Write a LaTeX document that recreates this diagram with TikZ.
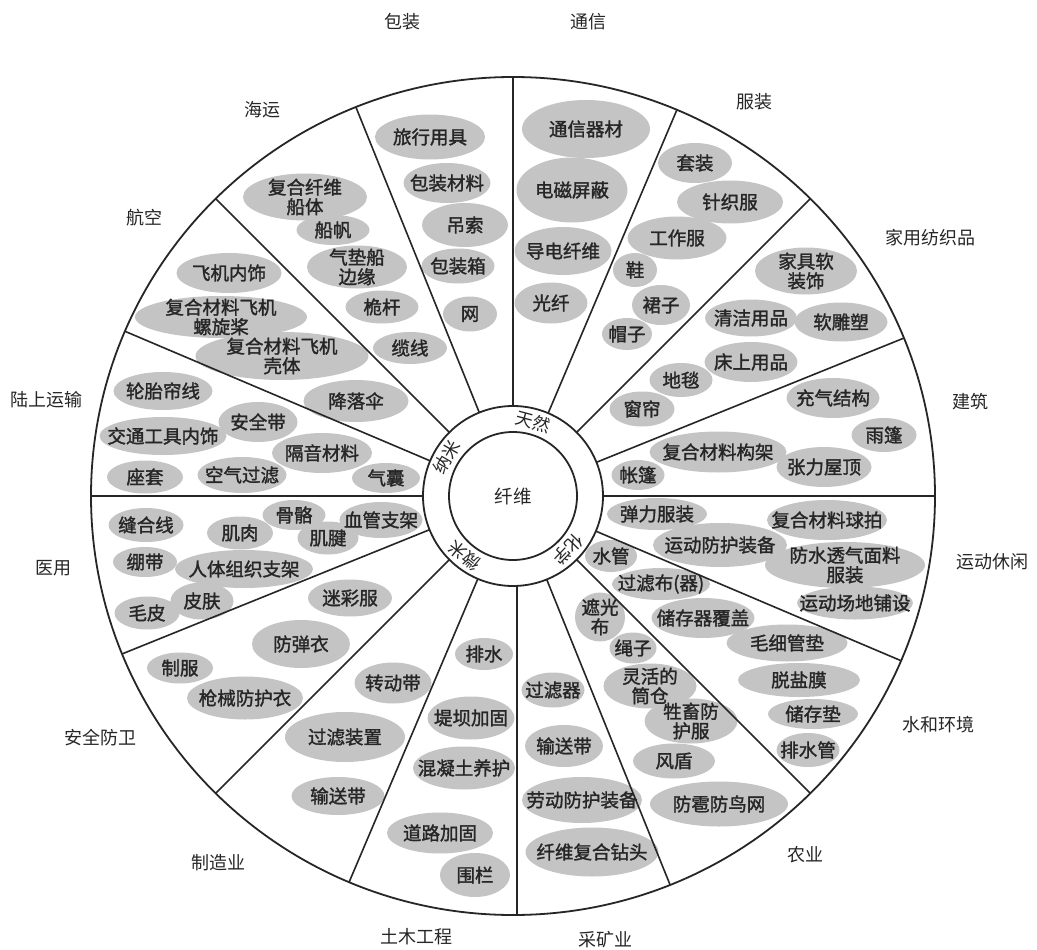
\documentclass[tikz,border=0pt]{standalone}
\usepackage{fontspec}
\newfontfamily\cjk{Noto Sans CJK SC}
\newfontfamily\cjkb[FakeBold=1.6]{Noto Sans CJK SC}
\usetikzlibrary{shapes.geometric,calc}
\pgfdeclarelayer{back}
\pgfdeclarelayer{bg}
\pgfsetlayers{back,bg,main}
\definecolor{blobgray}{gray}{0.77}
\definecolor{ink}{gray}{0.15}
\newcommand\myblob[6]{%
  \begin{pgfonlayer}{bg}
    \node[blobshape, minimum width=#4pt, minimum height=#5pt] (#1) at (#2,#3) {};
  \end{pgfonlayer}
  \node[blobtext] (#1-t) at (#1) {#6};%
}
\begin{document}
\begin{tikzpicture}[x=1pt,y=-1pt,
  rim/.style={draw=ink, line width=1.8pt, inner sep=0pt, outer sep=0pt},
  spoke/.style={draw=ink, line width=1.6pt},
  blobshape/.style={ellipse, fill=blobgray, inner sep=0pt, outer sep=0pt},
  blobtext/.style={font=\cjkb\fontsize{18.5}{19.5}\selectfont, text=ink, align=center, inner sep=0pt},
  sector/.style={font=\cjk\fontsize{18}{20}\selectfont, text=ink, inner sep=0pt},
  ringtext/.style={font=\cjk\fontsize{17.5}{18}\selectfont, text=ink, inner sep=0pt}
]
\useasboundingbox (0,0) rectangle (1037,950);
\begin{pgfonlayer}{back}
\fill[white] (0,0) rectangle (1037,950);
\end{pgfonlayer}

\coordinate (C) at (513,496);
\node[rim, ellipse, draw, minimum width=844pt, minimum height=838pt] (outer) at (C) {};
\node[rim, circle, draw, minimum size=180pt] (ring) at (C) {};
\node[rim, circle, draw, minimum size=128pt] (core) at (C) {};
\node[font=\cjk\fontsize{18.5}{20}\selectfont, text=ink, inner sep=0pt] (core-t) at (core) {纤维};

% spokes
\foreach \a in {0,22.5,45,67.5,90,112.5,135,157.5,180,202.5,225,247.5,292.5,315,337.5}
  \draw[spoke] (ring.\a) -- (outer.\a);
\draw[spoke] ([xshift=4pt]ring.270) -- ([xshift=4pt]outer.270);

% ring labels
\node[ringtext, rotate=-15] (r-tr) at ($(C)+(75:77pt)$) {天然};
\node[ringtext, rotate=60]  (r-nm) at ($(C)+(150:77pt)$) {纳米};
\node[ringtext, rotate=141] (r-wm) at ($(C)+(231:77pt)$) {微米};
\node[ringtext, rotate=226] (r-hx) at ($(C)+(316:77pt)$) {化学};

% sector labels
\node[sector] (l-bz) at (402,22) {包装};
\node[sector] (l-tx) at (588,22) {通信};
\node[sector] (l-fz) at (754,102) {服装};
\node[sector] (l-hy) at (262,110) {海运};
\node[sector] (l-hk) at (144,218) {航空};
\node[sector] (l-jf) at (930,238) {家用纺织品};
\node[sector] (l-ls) at (46,400) {陆上运输};
\node[sector] (l-jz) at (970,402) {建筑};
\node[sector] (l-yy) at (53,568) {医用};
\node[sector] (l-yd) at (992,562) {运动休闲};
\node[sector] (l-aq) at (100,738) {安全防卫};
\node[sector] (l-sh) at (938,725) {水和环境};
\node[sector] (l-zz) at (218,863) {制造业};
\node[sector] (l-ny) at (805,855) {农业};
\node[sector] (l-tm) at (416,937) {土木工程};
\node[sector] (l-ck) at (605,940) {采矿业};

% 通信
\myblob{tx1}{586}{129}{128}{58}{通信器材}
\myblob{tx2}{572}{190}{111}{65}{电磁屏蔽}
\myblob{tx3}{563}{251}{97}{48}{导电纤维}
\myblob{tx4}{551}{303}{73}{41}{光纤}
% 包装
\myblob{bz1}{430}{137}{110}{45}{旅行用具}
\myblob{bz2}{447}{183}{87}{40}{包装材料}
\myblob{bz3}{465}{225}{86}{44}{吊索}
\myblob{bz4}{458}{266}{73}{35}{包装箱}
\myblob{bz5}{470}{314}{54}{35}{网}
% 海运
\myblob{hy1}{305}{197}{124}{47}{复合纤维\\船体}
\myblob{hy2}{333}{230}{73}{30}{船帆}
\myblob{hy3}{357}{267}{100}{43}{气垫船\\边缘}
\myblob{hy4}{382}{307}{73}{33}{桅杆}
\myblob{hy5}{410}{348}{74}{32}{缆线}
% 航空
\myblob{hk1}{229}{273}{105}{40}{飞机内饰}
\myblob{hk2}{221}{317}{172}{42}{复合材料飞机\\螺旋桨}
\myblob{hk3}{282}{356}{173}{48}{复合材料飞机\\壳体}
\myblob{hk4}{356}{401}{105}{42}{降落伞}
% 陆上运输
\myblob{ls1}{163}{391}{99}{38}{轮胎帘线}
\myblob{ls2}{258}{422}{79}{40}{安全带}
\myblob{ls3}{163}{436}{127}{38}{交通工具内饰}
\myblob{ls4}{322}{453}{100}{40}{隔音材料}
\myblob{ls5}{145}{477}{76}{33}{座套}
\myblob{ls6}{242}{475}{89}{36}{空气过滤}
\myblob{ls7}{386}{478}{68}{30}{气囊}
% 医用
\myblob{yy1}{146}{525}{75}{34}{缝合线}
\myblob{yy2}{240}{533}{66}{33}{肌肉}
\myblob{yy3}{294}{515}{63}{30}{骨骼}
\myblob{yy4}{328}{538}{61}{33}{肌腱}
\myblob{yy5}{381}{520}{83}{36}{血管支架}
\myblob{yy6}{145}{562}{64}{30}{绷带}
\myblob{yy7}{244}{569}{138}{38}{人体组织支架}
\myblob{yy8}{202}{601}{63}{37}{皮肤}
\myblob{yy9}{147}{613}{65}{33}{毛皮}
% 安全防卫
\myblob{aq1}{350}{598}{84}{37}{迷彩服}
\myblob{aq2}{301}{644}{98}{48}{防弹衣}
\myblob{aq3}{180}{668}{66}{31}{制服}
\myblob{aq4}{245}{698}{116}{43}{枪械防护衣}
% 制造业
\myblob{zz1}{393}{683}{77}{41}{转动带}
\myblob{zz2}{345}{737}{120}{50}{过滤装置}
\myblob{zz3}{338}{796}{93}{38}{输送带}
% 土木工程
\myblob{tm1}{484}{654}{58}{32}{排水}
\myblob{tm2}{471}{718}{87}{43}{堤坝加固}
\myblob{tm3}{464}{768}{102}{43}{混凝土养护}
\myblob{tm4}{440}{833}{106}{41}{道路加固}
\myblob{tm5}{475}{875}{70}{44}{围栏}
% 采矿业
\myblob{ck1}{553}{690}{63}{35}{过滤器}
\myblob{ck2}{564}{746}{78}{42}{输送带}
\myblob{ck3}{582}{800}{120}{46}{劳动防护装备}
\myblob{ck4}{592}{852}{133}{49}{纤维复合钻头}
% 农业
\myblob{ny1}{600}{617}{50}{49}{遮光\\布}
\myblob{ny2}{633}{648}{47}{31}{绳子}
\myblob{ny3}{650}{686}{93}{45}{灵活的\\筒仓}
\myblob{ny4}{691}{721}{93}{45}{牲畜防\\护服}
\myblob{ny5}{674}{761}{82}{35}{风盾}
\myblob{ny6}{719}{804}{138}{45}{防雹防鸟网}
% 水和环境
\myblob{sh1}{611}{556}{52}{32}{水管}
\myblob{sh2}{661}{584}{98}{32}{过滤布(器)}
\myblob{sh3}{703}{618}{103}{40}{储存器覆盖}
\myblob{sh4}{787}{643}{121}{37}{毛细管垫}
\myblob{sh5}{799}{680}{122}{34}{脱盐膜}
\myblob{sh6}{813}{714}{90}{30}{储存垫}
\myblob{sh7}{808}{750}{63}{34}{排水管}
% 运动休闲
\myblob{yd1}{657}{514}{100}{32}{弹力服装}
\myblob{yd2}{827}{520}{120}{40}{复合材料球拍}
\myblob{yd3}{720}{545}{134}{44}{运动防护装备}
\myblob{yd4}{845}{565}{160}{46}{防水透气面料\\服装}
\myblob{yd5}{855}{603}{116}{33}{运动场地铺设}
% 建筑
\myblob{jz1}{833}{398}{93}{40}{充气结构}
\myblob{jz2}{884}{435}{65}{34}{雨篷}
\myblob{jz3}{718}{452}{137}{41}{复合材料构架}
\myblob{jz4}{824}{467}{95}{40}{张力屋顶}
\myblob{jz5}{638}{475}{53}{30}{帐篷}
% 家用纺织品
\myblob{jf1}{806}{271}{102}{47}{家具软\\装饰}
\myblob{jf2}{751}{318}{92}{37}{清洁用品}
\myblob{jf3}{841}{322}{93}{39}{软雕塑}
\myblob{jf4}{751}{362}{93}{40}{床上用品}
\myblob{jf5}{681}{380}{63}{34}{地毯}
\myblob{jf6}{642}{409}{65}{35}{窗帘}
% 服装
\myblob{fz1}{695}{163}{74}{40}{套装}
\myblob{fz2}{730}{202}{106}{43}{针织服}
\myblob{fz3}{677}{238}{99}{43}{工作服}
\myblob{fz4}{635}{270}{44}{34}{鞋}
\myblob{fz5}{661}{305}{58}{40}{裙子}
\myblob{fz6}{627}{334}{50}{32}{帽子}
\end{tikzpicture}
\end{document}
